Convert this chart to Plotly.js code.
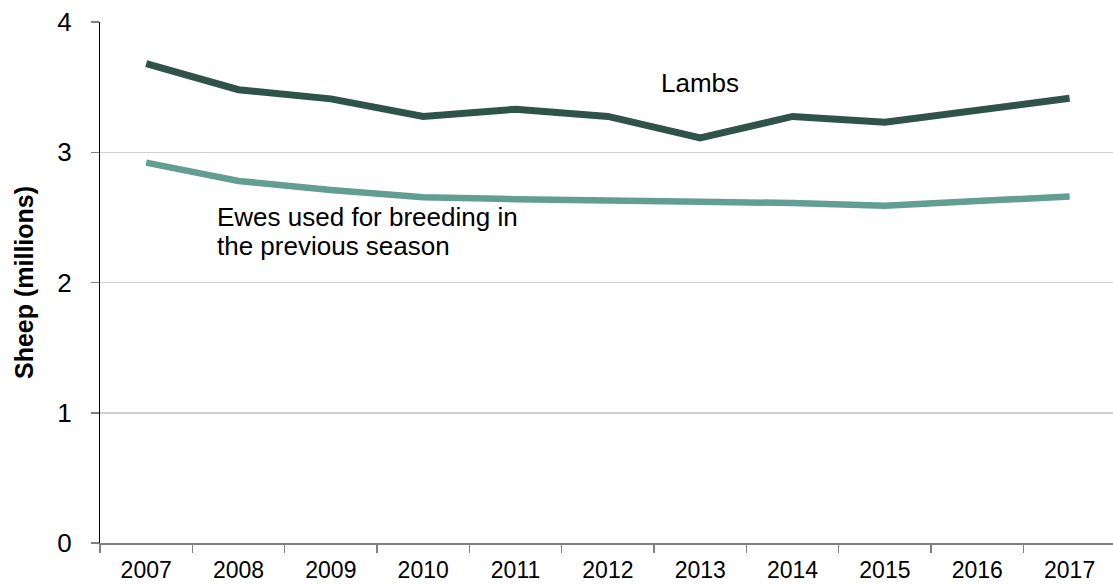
<!DOCTYPE html>
<html>
<head>
<meta charset="utf-8">
<script src="https://cdn.plot.ly/plotly-3.0.1.min.js"></script>
<style>html,body{margin:0;padding:0;background:#fff;}#chart{width:1113px;height:585px;}</style>
</head>
<body>
<div id="chart"></div>
<script>
const years = ["2007","2008","2009","2010","2011","2012","2013","2014","2015","2016","2017"];
const lambs = [3.68, 3.48, 3.41, 3.275, 3.33, 3.275, 3.11, 3.275, 3.23, 3.32, 3.415];
const ewes = [2.92, 2.78, 2.71, 2.655, 2.64, 2.625, 2.62, 2.61, 2.59, 2.625, 2.66];
const yTicks = [0, 1, 2, 3, 4];
const labelLambs = "Lambs";
const labelEwes1 = "Ewes used for breeding in";
const labelEwes2 = "the previous season";
const yTitle = "Sheep (millions)";

const font = "Liberation Sans, Arial, sans-serif";

const traces = [
  {x: years, y: lambs, type: "scatter", mode: "lines", name: "Lambs",
   line: {color: "#2f5349", width: 7}, hoverinfo: "skip"},
  {x: years, y: ewes, type: "scatter", mode: "lines", name: "Ewes",
   line: {color: "#629e91", width: 6.5}, hoverinfo: "skip"}
];

const layout = {
  width: 1113, height: 585,
  margin: {l: 100, r: 0, t: 22, b: 42, pad: 0},
  paper_bgcolor: "#fff", plot_bgcolor: "#fff",
  showlegend: false,
  font: {family: font, size: 26, color: "#000"},
  xaxis: {
    type: "category", range: [-0.5, 10.47],
    tickson: "boundaries", ticks: "outside", ticklen: 8, tickwidth: 1.5, tickcolor: "#808080",
    showline: true, linecolor: "#808080", linewidth: 1.5,
    showgrid: false, zeroline: false,
    tickfont: {family: font, size: 23, color: "#000"},
    ticklabelstandoff: 6
  },
  yaxis: {
    range: [0, 4], tickvals: yTicks, ticktext: yTicks.map(String),
    ticks: "outside", ticklen: 8, tickwidth: 1.5, tickcolor: "#808080",
    showline: true, linecolor: "#000", linewidth: 1,
    showgrid: true, gridcolor: "#d0d0d0", gridwidth: 1.5,
    zeroline: false,
    tickfont: {family: font, size: 26, color: "#000"},
    ticklabelstandoff: 14,
    title: {text: yTitle, font: {family: font, size: 25, color: "#000", weight: "bold"}, standoff: 16}
  },
  annotations: [
    {xref: "paper", yref: "paper", x: (659-100)/1013, y: (543-83)/521, xanchor: "left", yanchor: "middle",
     text: labelLambs, showarrow: false, font: {family: font, size: 26, color: "#000"}},
    {xref: "paper", yref: "paper", x: (215-100)/1013, y: (543-217)/521, xanchor: "left", yanchor: "middle",
     text: labelEwes1, showarrow: false, font: {family: font, size: 26, color: "#000"}},
    {xref: "paper", yref: "paper", x: (215-100)/1013, y: (543-246)/521, xanchor: "left", yanchor: "middle",
     text: labelEwes2, showarrow: false, font: {family: font, size: 26, color: "#000"}}
  ]
};

Plotly.newPlot("chart", traces, layout, {staticPlot: true, displayModeBar: false});
</script>
</body>
</html>
